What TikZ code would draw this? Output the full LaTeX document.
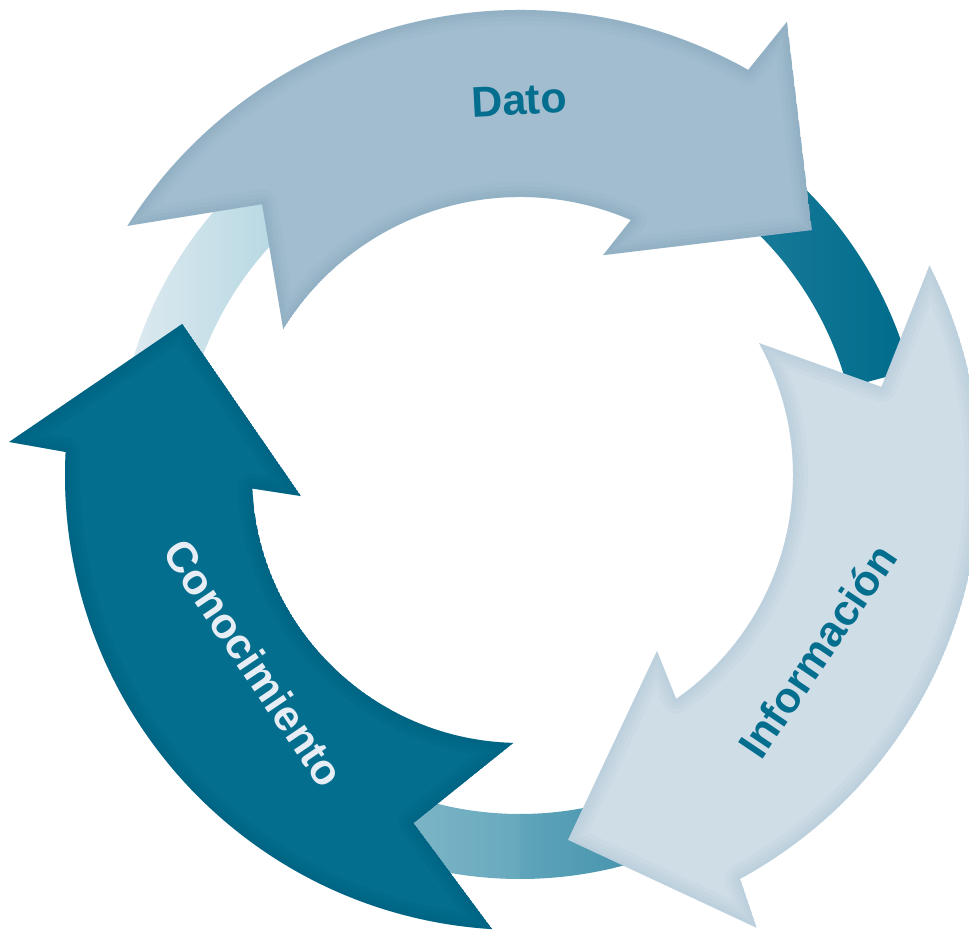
\documentclass[tikz,border=0pt]{standalone}
\usepackage{fontspec}
\setmainfont{Liberation Sans}
\definecolor{datofill}{HTML}{A3BDD0}
\definecolor{datoedge}{HTML}{5F8AA4}
\definecolor{infofill}{HTML}{CFDDE7}
\definecolor{infoedge}{HTML}{7FA9C0}
\definecolor{conofill}{HTML}{036E8E}
\definecolor{conoedge}{HTML}{004A68}
\definecolor{labteal}{HTML}{036E8E}
\definecolor{lablight}{HTML}{E6EDF4}
\newcommand{\DatoShape}{(147.6:465pt) arc[start angle=147.6,end angle=60.6,radius=465pt] -- (59.5:526pt) -- (40:381pt) -- (69.3:235pt) -- (66.5:278pt) arc[start angle=66.5,end angle=148.4,radius=278pt] -- (133.6:374pt) -- cycle}
\newcommand{\InfoShape}{(27.1:460pt) arc[start angle=27.1,end angle=-61.4,radius=460pt] -- (-62.4:511pt) -- (-82.5:368pt) -- (-52.1:223pt) -- (-55.1:273pt) arc[start angle=-55.1,end angle=28.9,radius=273pt] -- (13.7:372pt) -- cycle}
\newcommand{\ConoShape}{(266.5:455pt) arc[start angle=266.5,end angle=177.1,radius=455pt] -- (176.3:512pt) -- (155.9:370pt) -- (185.5:220pt) -- (182.9:268pt) arc[start angle=182.9,end angle=268.6,radius=268pt] -- (253:364pt) -- cycle}
\tikzset{
  lbl/.style={font=\fontsize{43}{43}\selectfont\bfseries, inner sep=0pt},
  glowA/.style={line width=30pt, opacity=0.06, line join=round},
  glowB/.style={line width=21pt, opacity=0.06, line join=round},
  glowC/.style={line width=13pt, opacity=0.06, line join=round},
  glowD/.style={line width=6pt, opacity=0.06, line join=round}
}
\begin{document}
\begin{tikzpicture}[x=1pt,y=1pt]
\useasboundingbox (-520,-456) rectangle (449,475);
\fill[white] (-520,-456) rectangle (449,475);
\clip (-520,-456) rectangle (449,475);
% background ring pieces
\shade[left color={rgb,255:red,227;green,236;blue,242}, right color={rgb,255:red,171;green,211;blue,222}]
  (125:404pt) arc[start angle=125,end angle=185,radius=404pt] -- (185:339pt) arc[start angle=185,end angle=125,radius=339pt] -- cycle;
\shade[left color={rgb,255:red,45;green,136;blue,164}, right color={rgb,255:red,0;green,107;blue,139}]
  (15:404pt) arc[start angle=15,end angle=75,radius=404pt] -- (75:339pt) arc[start angle=75,end angle=15,radius=339pt] -- cycle;
\shade[left color={rgb,255:red,134;green,186;blue,203}, right color={rgb,255:red,104;green,169;blue,190}]
  (245:404pt) arc[start angle=245,end angle=270,radius=404pt] -- (270:339pt) arc[start angle=270,end angle=245,radius=339pt] -- cycle;
\shade[left color={rgb,255:red,95;green,164;blue,186}, right color={rgb,255:red,65;green,145;blue,170}]
  (270:404pt) arc[start angle=270,end angle=290,radius=404pt] -- (290:339pt) arc[start angle=290,end angle=270,radius=339pt] -- cycle;
% Dato arrow
\begin{scope}
  \clip \DatoShape;
  \fill[datofill] \DatoShape;
  \draw[datoedge, glowA] \DatoShape;
  \draw[datoedge, glowB] \DatoShape;
  \draw[datoedge, glowC] \DatoShape;
  \draw[datoedge, glowD] \DatoShape;
\end{scope}
% Informacion arrow
\begin{scope}
  \clip \InfoShape;
  \fill[infofill] \InfoShape;
  \draw[infoedge, glowA] \InfoShape;
  \draw[infoedge, glowB] \InfoShape;
  \draw[infoedge, glowC] \InfoShape;
  \draw[infoedge, glowD] \InfoShape;
\end{scope}
% Conocimiento arrow
\begin{scope}
  \clip \ConoShape;
  \fill[conofill] \ConoShape;
  \draw[conoedge, glowA] \ConoShape;
  \draw[conoedge, glowB] \ConoShape;
  \draw[conoedge, glowC] \ConoShape;
  \draw[conoedge, glowD] \ConoShape;
\end{scope}
% labels
\node[lbl, text=labteal, rotate=3] (dato) at (-1,375) {Dato};
\node[lbl, text=labteal, rotate=56] (info) at (297,-176) {Información};
\node[lbl, text=lablight, rotate=-56] (cono) at (-266,-188) {Conocimiento};
\end{tikzpicture}
\end{document}
